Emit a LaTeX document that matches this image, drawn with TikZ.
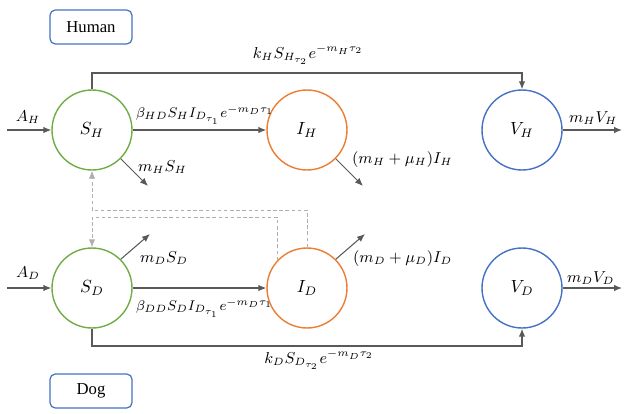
\documentclass[tikz,border=0pt]{standalone}
\usepackage{fontspec}
\setmainfont{Liberation Serif}
\usetikzlibrary{arrows.meta}
\definecolor{compS}{HTML}{70AD47}
\definecolor{compI}{HTML}{ED7D31}
\definecolor{compV}{HTML}{4472C4}
\definecolor{flowline}{HTML}{595959}
\definecolor{dashline}{HTML}{AFAFAF}

\begin{document}
\begin{tikzpicture}[x=0.02cm,y=-0.02cm,font=\fontsize{9}{11}\selectfont,
comp/.style={circle,draw=#1,line width=.8pt,minimum size=1.6cm,inner sep=0pt,font=\fontsize{10}{12}\selectfont},
group/.style={draw=compV,rounded corners=3pt,line width=.7pt,minimum width=1.64cm,minimum height=.68cm,font=\fontsize{9.5}{11}\selectfont},
arrow/.style={-{Latex[length=1.6mm,width=1.3mm]},line width=.6pt,draw=flowline},
link/.style={-{Latex[length=1.6mm,width=1.3mm]},line width=.5pt,draw=dashline,dashed,dash pattern=on 2pt off 1.5pt},
rate/.style={anchor=west,inner sep=1pt}]
\useasboundingbox (0,0) rectangle (629,413);
\node[group] (human) at (91,27) {Human};
\node[group] (dog) at (91,391) {Dog};
\node[comp=compS] (SH) at (92,130) {$S_H$};
\node[comp=compI] (IH) at (307,130) {$I_H$};
\node[comp=compV] (VH) at (522,130) {$V_H$};
\node[comp=compS] (SD) at (92,288) {$S_D$};
\node[comp=compI] (ID) at (307,288) {$I_D$};
\node[comp=compV] (VD) at (522,288) {$V_D$};
% free ends
\coordinate (inH) at (7,130);
\coordinate (inD) at (7,288);
\coordinate (outSH) at (148,186);
\coordinate (outSD) at (150,234);
\coordinate (outIH) at (363,186);
\coordinate (outID) at (365,234);
\coordinate (outVH) at (622,130);
\coordinate (outVD) at (622,288);
\coordinate (topY) at (0,73);
\coordinate (botY) at (0,346);
\coordinate (dashA) at (0,210);
\coordinate (dashB) at (0,217);
% flows
\draw[arrow] (inH)--(SH.west);
\draw[arrow] (inD)--(SD.west);
\draw[arrow] (SH)--(IH);
\draw[arrow] (SD)--(ID);
\draw[arrow] (SH.-45)--(outSH);
\draw[arrow] (SD.45)--(outSD);
\draw[arrow] (IH.-45)--(outIH);
\draw[arrow] (ID.45)--(outID);
\draw[arrow] (VH.east)--(outVH);
\draw[arrow] (VD.east)--(outVD);
\draw[arrow] (SH.north)--(SH.north |- topY)-|(VH.north);
\draw[arrow] (SD.south)--(SD.south |- botY)-|(VD.south);
\draw[link] (ID.north)--(ID.north |- dashA)-|(SH.south);
\draw[link] (ID.137)--(ID.137 |- dashB)-|(SD.north);
% rates
\node (lAH) at (28,117) {$A_H$};
\node (lAD) at (28,273) {$A_D$};
\node[rate,font=\fontsize{8.4}{10}\selectfont] (lbH) at (134,115) {$\beta_{HD}S_HI_{D_{\tau_1}}e^{-m_D\tau_1}$};
\node[rate,font=\fontsize{8.4}{10}\selectfont] (lbD) at (134,308) {$\beta_{DD}S_DI_{D_{\tau_1}}e^{-m_D\tau_1}$};
\node[rate] (lmSH) at (136,167) {$m_HS_H$};
\node[rate] (lmSD) at (138,258) {$m_DS_D$};
\node (lkH) at (308,55) {$k_HS_{H_{\tau_2}}e^{-m_H\tau_2}$};
\node (lkD) at (319,360) {$k_DS_{D_{\tau_2}}e^{-m_D\tau_2}$};
\node[rate] (lmIH) at (350,160) {$(m_H+\mu_H)I_H$};
\node[rate] (lmID) at (351,259) {$(m_D+\mu_D)I_D$};
\node[rate] (lmVH) at (567,118) {$m_HV_H$};
\node[rate] (lmVD) at (565,278) {$m_DV_D$};
\end{tikzpicture}
\end{document}
